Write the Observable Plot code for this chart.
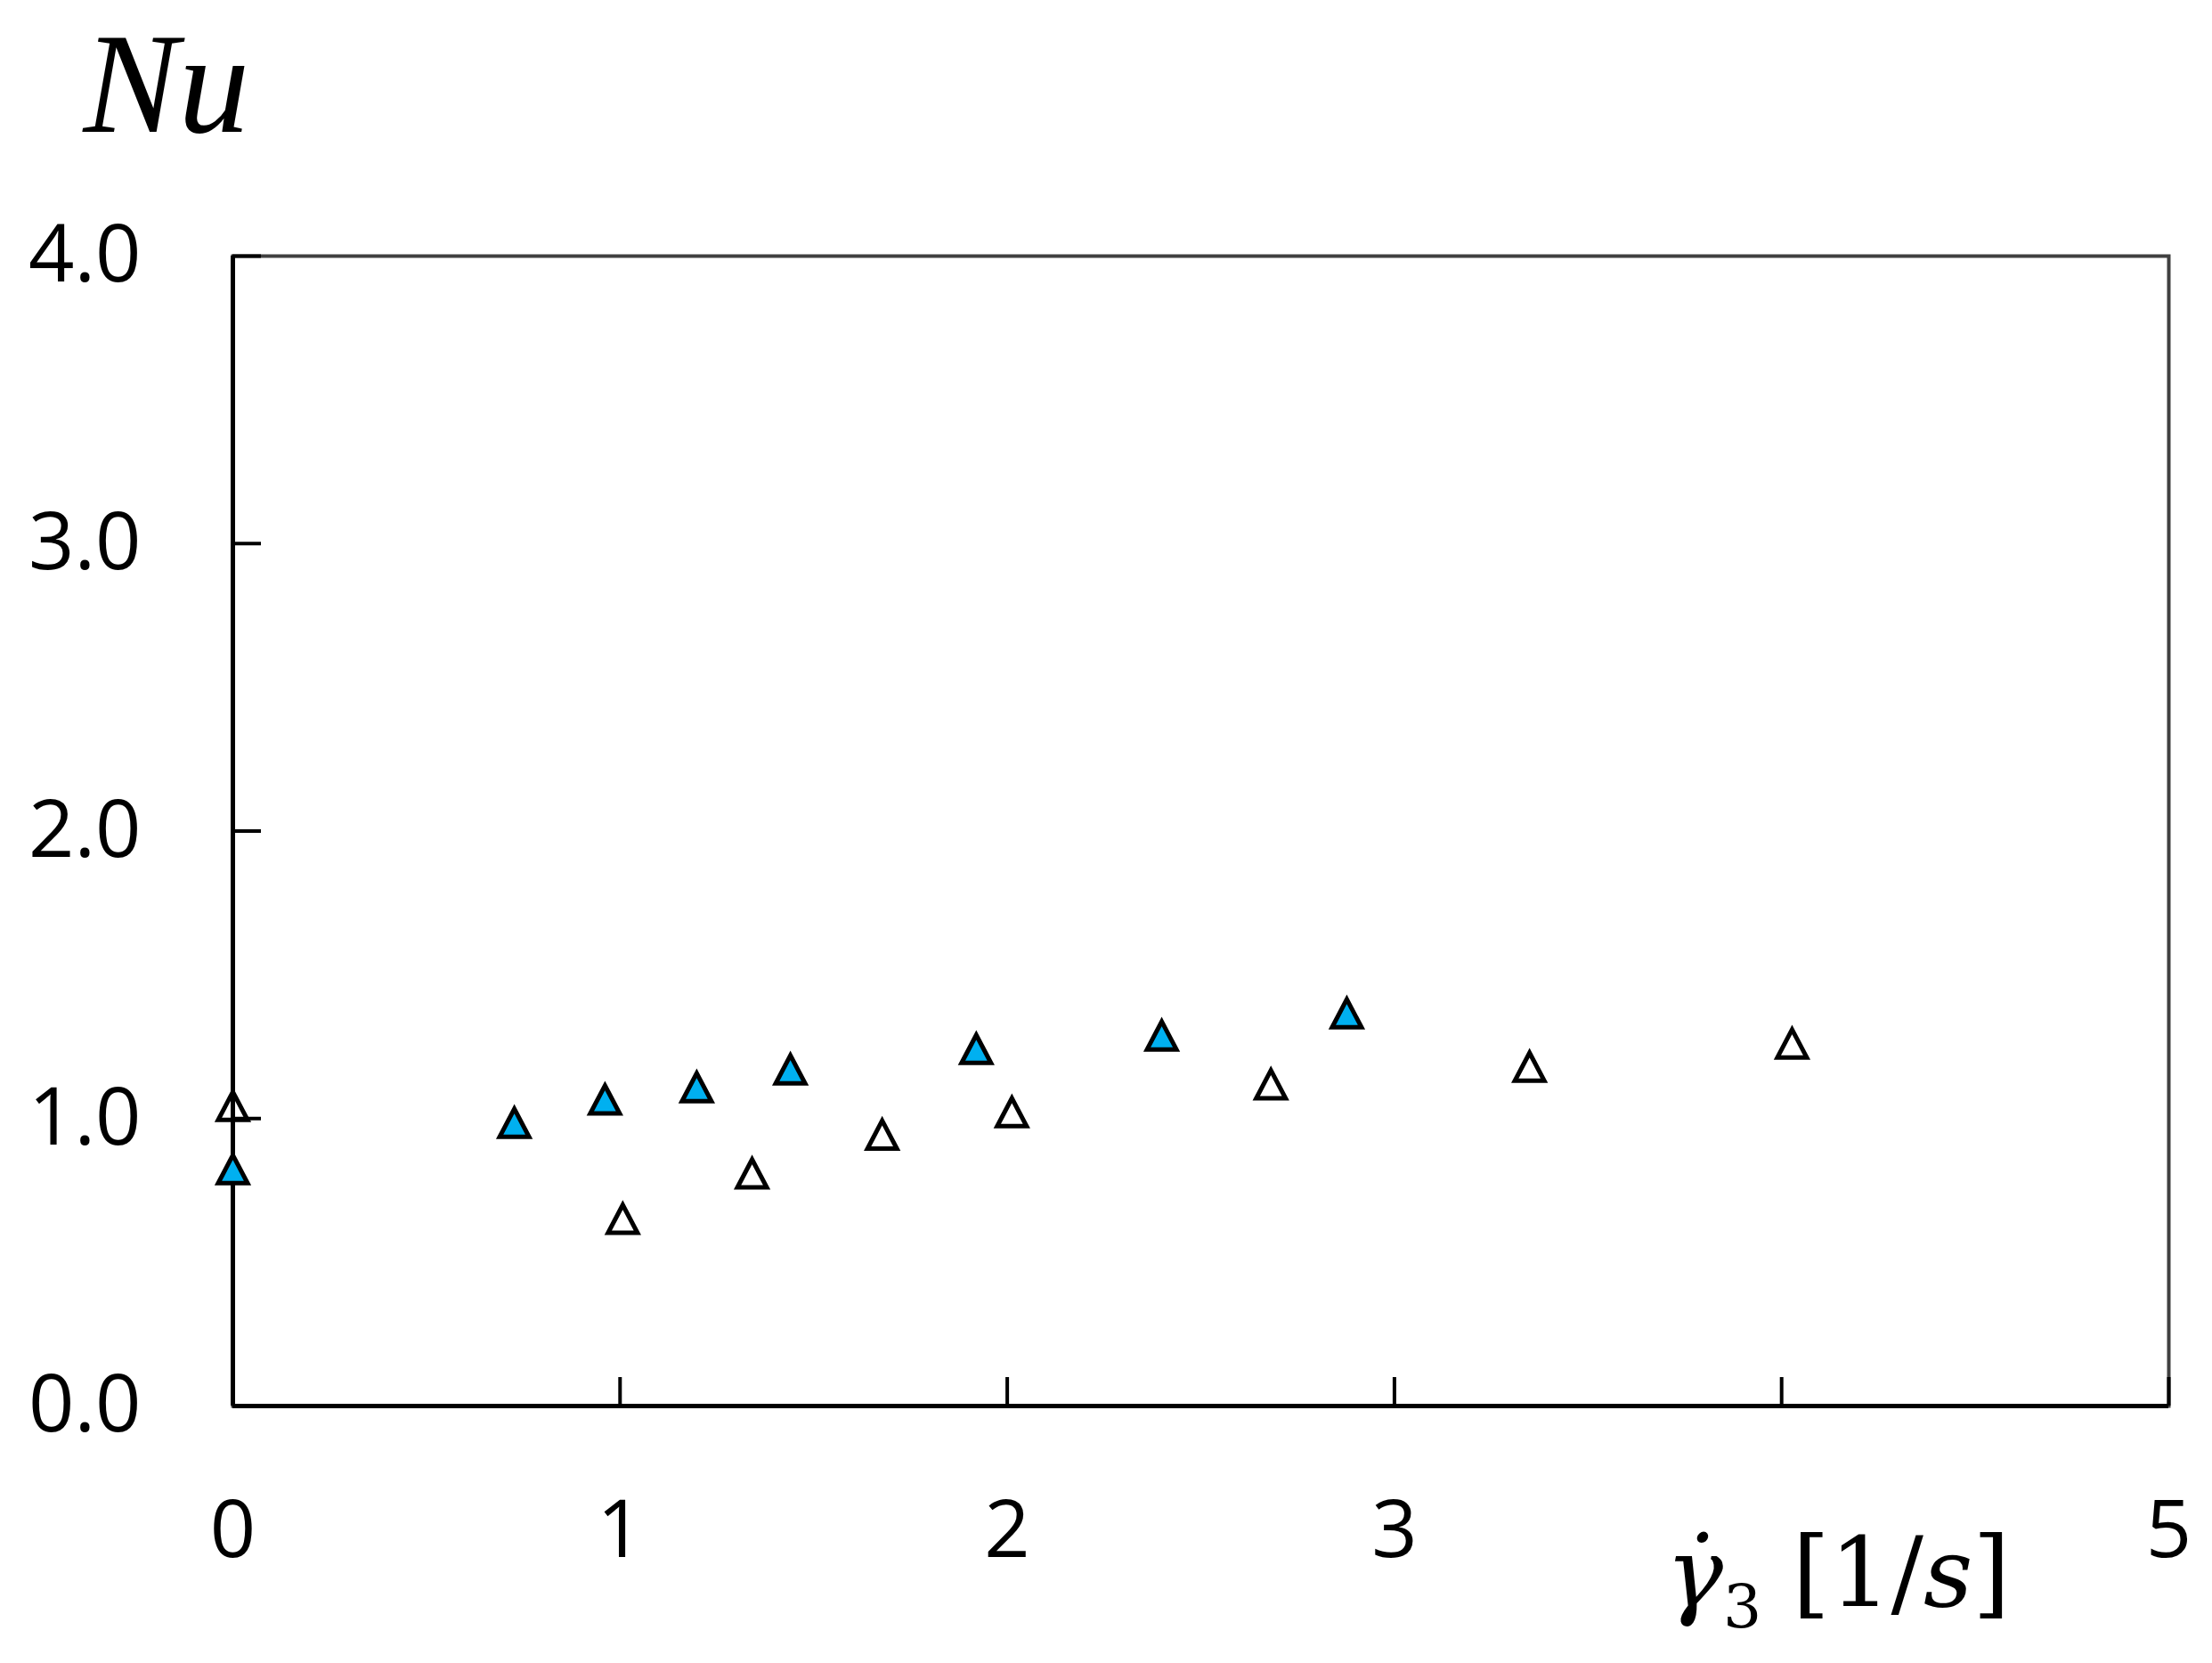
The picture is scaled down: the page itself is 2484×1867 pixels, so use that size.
<!DOCTYPE html>
<html><head><meta charset="utf-8">
<script src="https://cdn.jsdelivr.net/npm/d3@7"></script>
<script src="https://cdn.jsdelivr.net/npm/@observablehq/plot@0.6"></script>
<style>html,body{margin:0;padding:0;background:#fff;overflow:hidden;}</style>
</head><body><div id="chart"></div>
<script>
// Series 1: filled (blue) triangles
const filledX = [0, 0.727, 0.961, 1.198, 1.44, 1.92, 2.399, 2.877];
const filledY = [0.824, 0.985, 1.066, 1.109, 1.171, 1.242, 1.289, 1.366];
// Series 2: open triangles
const openX = [0, 1.007, 1.341, 1.677, 2.012, 2.681, 3.349, 4.027];
const openY = [1.044, 0.651, 0.809, 0.944, 1.022, 1.119, 1.18, 1.261];
// Axis ticks
const xTickLabels = [0, 1, 2, 3, 5];
const xTickMarks = [1, 2, 3, 4, 5];
const yTicks = [0, 1, 2, 3, 4];
const yLabel = "Nu";
const xLabel = "γ̇₃ [1/s]";

const filled = filledX.map((x, i) => ({x, y: filledY[i]}));
const open = openX.map((x, i) => ({x, y: openY[i]}));

const tri = {
  draw(ctx, size) {
    const r = Math.sqrt(size / Math.PI);
    const hw = r, h = r * 1.9;
    ctx.moveTo(0, -h / 2);
    ctx.lineTo(hw, h / 2);
    ctx.lineTo(-hw, h / 2);
    ctx.closePath();
  }
};

const tickFont = "'Open Sans', sans-serif";
const mathFont = "'DejaVu Serif', serif";
const nuFont = "'Liberation Serif', serif";

const chart = Plot.plot({
  width: 2484,
  height: 1867,
  marginLeft: 261,
  marginRight: 49,
  marginTop: 287,
  marginBottom: 289,
  x: {domain: [0, 5]},
  y: {domain: [0, 4]},
  style: {background: "#fff", color: "#000", fontFamily: tickFont},
  marks: [
    Plot.frame({stroke: "#404040", strokeWidth: 4}),
    Plot.axisY({ticks: yTicks, label: null, tickSize: 0, tickPadding: 103, tickFormat: d3.format(".1f"), fontSize: 90, fontFamily: tickFont}),
    Plot.axisY({ticks: yTicks, label: null, tickSize: -32, text: null, strokeWidth: 4, stroke: "#000"}),
    Plot.axisX({ticks: xTickLabels, label: null, tickSize: 0, tickPadding: 106, tickFormat: d3.format("d"), fontSize: 90, fontFamily: tickFont}),
    Plot.axisX({ticks: xTickMarks, label: null, tickSize: -32, text: null, strokeWidth: 4, stroke: "#000"}),
    Plot.ruleX([0], {stroke: "#000", strokeWidth: 5}),
    Plot.ruleY([0], {stroke: "#000", strokeWidth: 5}),
    Plot.dot(open, {x: "x", y: "y", symbol: tri, r: 16.5, fill: "none", stroke: "#000", strokeWidth: 5, strokeLinejoin: "miter"}),
    Plot.dot(filled, {x: "x", y: "y", symbol: tri, r: 16.5, fill: "#00B0F0", stroke: "#000", strokeWidth: 5, strokeLinejoin: "miter"}),
    Plot.text([yLabel], {frameAnchor: "top-left", text: d => d, dx: -168, dy: -140, textAnchor: "start", lineAnchor: "bottom", fontSize: 160, fontStyle: "italic", fontFamily: nuFont, fill: "#000"}),
    Plot.text([xLabel], {frameAnchor: "bottom-right", text: d => d, dx: -178, dy: 224, textAnchor: "end", lineAnchor: "bottom", fontSize: 108, fontFamily: mathFont, fill: "#000"})
  ]
});
document.getElementById("chart").appendChild(chart);

// Rich formatting of the x label (italic symbols, subscript)
const lbl = [...chart.querySelectorAll("text")].find(t => t.textContent === xLabel);
if (lbl) {
  const ns = "http://www.w3.org/2000/svg";
  while (lbl.firstChild) lbl.removeChild(lbl.firstChild);
  const parts = [
    {t: "γ̇", style: "italic"},
    {t: "3", size: 68, dy: 24},
    {t: " [1/", dy: -24},
    {t: "s", style: "italic"},
    {t: "]"}
  ];
  for (const p of parts) {
    const ts = document.createElementNS(ns, "tspan");
    ts.textContent = p.t;
    if (p.style) ts.setAttribute("font-style", p.style);
    if (p.size) ts.setAttribute("font-size", p.size);
    if (p.dy) ts.setAttribute("dy", p.dy);
    lbl.appendChild(ts);
  }
}
</script>
</body></html>
